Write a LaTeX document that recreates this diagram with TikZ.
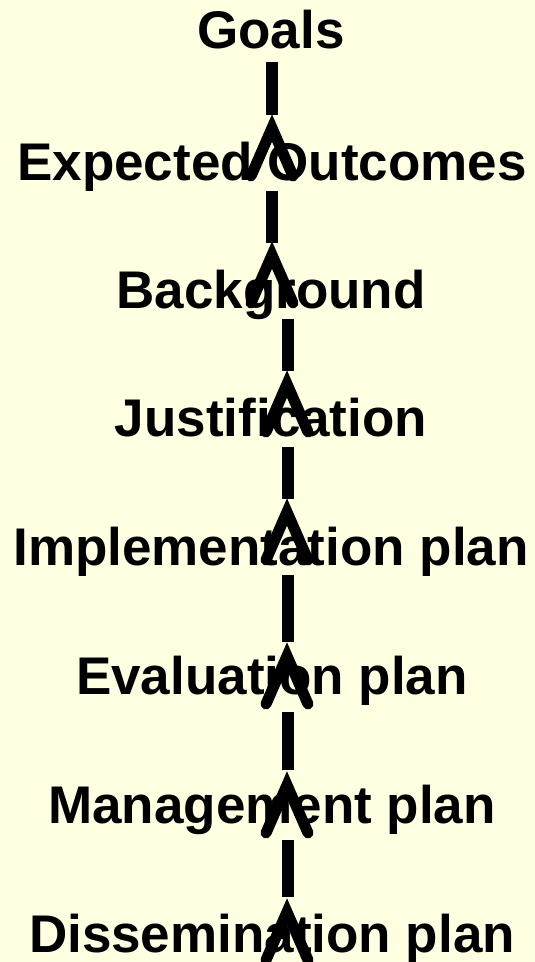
\documentclass[tikz,border=0pt]{standalone}
\usepackage{fontspec}
\setmainfont{Liberation Sans}
\usetikzlibrary{calc}
\definecolor{paper}{RGB}{255,255,225}
\begin{document}
\begin{tikzpicture}[x=1pt,y=-1pt,
  label/.style={inner sep=0pt, anchor=base, font=\fontsize{53}{60}\selectfont\bfseries},
  dashseg/.style={line width=12pt, line cap=butt},
  chev/.style={line width=11pt, line cap=round, line join=miter}]
  % page and background
  \fill[paper] (0,0) rectangle (535,962);
  \useasboundingbox (0,0) rectangle (535,962);

  % labels, top to bottom
  \node[label] (n0) at (271,48)  {Goals};
  \node[label] (n1) at (272,180) {Expected Outcomes};
  \node[label] (n2) at (271,308) {Background};
  \node[label] (n3) at (271,436) {Justification};
  \node[label] (n4) at (271,565) {Implementation plan};
  \node[label] (n5) at (272,694) {Evaluation plan};
  \node[label] (n6) at (272,823) {Management plan};
  \node[label] (n7) at (272,952) {Dissemination plan};

  % arrow tips sitting on each lower label
  \coordinate (t1) at (272,128);
  \coordinate (t2) at (272,255);
  \coordinate (t3) at (287,384);
  \coordinate (t4) at (287,512);
  \coordinate (t5) at (287,656);
  \coordinate (t6) at (287,785);
  \coordinate (t7) at (287,912);

  % dashed shafts between consecutive labels
  \draw[dashseg] (272,62)  -- (272,115);
  \draw[dashseg] (272,191) -- (272,243);
  \draw[dashseg] (288,319) -- (288,371);
  \draw[dashseg] (288,447) -- (288,499);
  \draw[dashseg] (288,575) -- (288,642);
  \draw[dashseg] (288,712) -- (288,770);
  \draw[dashseg] (288,840) -- (288,897);

  % open chevron heads pointing upwards
  \foreach \t in {t1,t2,t3,t4,t5,t6,t7}
    \draw[chev] (\t) ++(-21,48) -- (\t) -- ++(21,48);
\end{tikzpicture}
\end{document}
